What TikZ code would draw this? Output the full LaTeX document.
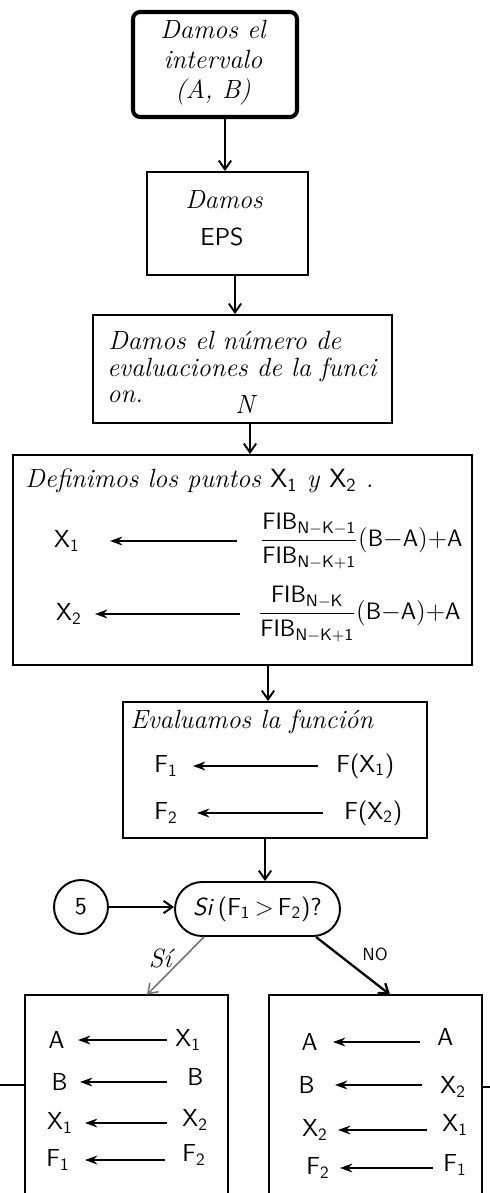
\documentclass[tikz,border=0pt]{standalone}
\usepackage{fontspec}
\usetikzlibrary{arrows.meta,shapes.misc}
\begin{document}
\begin{tikzpicture}[x=0.02cm,y=-0.02cm,
  box/.style={draw, line width=1.1pt, inner sep=0pt},
  txt/.style={inner sep=0pt, font=\fontsize{15}{17}\selectfont\itshape},
  var/.style={inner sep=0pt, font=\fontsize{14}{16}\selectfont\sffamily},
  frac/.style={inner sep=0pt, font=\fontsize{13.5}{15}\selectfont},
  flow/.style={line width=1.1pt, -{Straight Barb[length=5pt,width=7pt]}},
  asg/.style={line width=1pt, -{Stealth[length=7pt,width=5pt]}},
]
\useasboundingbox (0,0) rectangle (490,1193);

% ---- boxes ----
\node[box, line width=2.3pt, rounded corners=4pt, minimum width=3.28cm, minimum height=2.1cm] (b1) at (215,64.5) {};
\node[box, minimum width=3.22cm, minimum height=2.06cm] (b2) at (227.5,223.5) {};
\node[box, minimum width=5.98cm, minimum height=2.16cm] (b3) at (242.5,369) {};
\node[box, minimum width=9.18cm, minimum height=4.2cm] (b4) at (242.5,560) {};
\node[box, minimum width=6.08cm, minimum height=2.72cm] (b5) at (275,770) {};
\node[box, rounded rectangle, minimum width=3.3cm, minimum height=1.08cm, font=\fontsize{14}{16}\selectfont\sffamily] (dec) at (257.5,909) {\textit{Si}\,(F\textsubscript{1}\,$>$\,F\textsubscript{2})?};
\node[box, circle, minimum size=1.08cm, font=\fontsize{14}{16}\selectfont\sffamily] (circ) at (81,907) {5};
\node[inner sep=0pt, minimum width=4.04cm, minimum height=3.96cm] (bL) at (126.5,1094) {};
\node[inner sep=0pt, minimum width=4.26cm, minimum height=3.96cm] (bR) at (375.5,1094) {};
\draw[line width=1.2pt] (bL.south west) -- (bL.north west) -- (bL.north east) -- (bL.south east);
\draw[line width=1.2pt] (bR.south west) -- (bR.north west) -- (bR.north east) -- (bR.south east);

% ---- texts ----
\node[txt, align=center] (t1) at (213,63) {Damos el\\intervalo\\(A, B)};
\node[txt] (t2a) at (224,200) {Damos};
\node[var] (t2b) at (222,237) {EPS};
\node[txt, anchor=west] (t3a) at (108,340) {Damos el número de};
\node[txt, anchor=west] (t3b) at (107,370) {evaluaciones de la funci};
\node[txt, anchor=west] (t3c) at (107,397) {on.};
\node[txt] (t3n) at (245,404) {N};
\node[txt, anchor=west] (t4) at (25,481) {Definimos los puntos \textup{\sffamily X\textsubscript{1}} y \textup{\sffamily X\textsubscript{2}} .};
\node[txt, anchor=west] (t5) at (130,722) {Evaluamos la función};

% ---- box 4 rows ----
\node[var, anchor=east] (x1) at (80,541) {X\textsubscript{1}};
\node[frac, anchor=west] (f1) at (260,541) {$\displaystyle\frac{\mathsf{FIB}_{\mathsf{N-K-1}}}{\mathsf{FIB}_{\mathsf{N-K+1}}}(\mathsf{B}{-}\mathsf{A}){+}\mathsf{A}$};
\draw[asg, shorten <=0.46cm, shorten >=0.6cm] (f1.west) -- (x1.east);
\node[var, anchor=east] (x2) at (82,614) {X\textsubscript{2}};
\node[frac, anchor=west] (f2) at (258,614) {$\displaystyle\frac{\mathsf{FIB}_{\mathsf{N-K}}}{\mathsf{FIB}_{\mathsf{N-K+1}}}(\mathsf{B}{-}\mathsf{A}){+}\mathsf{A}$};
\draw[asg, shorten <=0.36cm, shorten >=0.26cm] (f2.west) -- (x2.east);

% ---- box 5 rows ----
\node[var, anchor=east] (F1) at (178,766) {F\textsubscript{1}};
\node[var, anchor=west] (FX1) at (336,766) {F(X\textsubscript{1})};
\draw[asg, shorten <=0.36cm, shorten >=0.3cm] (FX1.west) -- (F1.east);
\node[var, anchor=east] (F2) at (178,813) {F\textsubscript{2}};
\node[var, anchor=west] (FX2) at (344,813) {F(X\textsubscript{2})};
\draw[asg, shorten <=0.42cm, shorten >=0.38cm] (FX2.west) -- (F2.east);

% ---- left box rows ----
\node[var, anchor=east] (lA) at (65,1040) {A};
\node[var, anchor=west] (rA) at (175,1040) {X\textsubscript{1}};
\draw[asg, shorten <=0.16cm, shorten >=0.26cm] (rA.west |- lA.east) -- (lA.east);
\node[var, anchor=east] (lB) at (68,1082) {B};
\node[var, anchor=west] (rB) at (187,1077) {B};
\draw[asg, shorten <=0.4cm, shorten >=0.24cm] (rB.west |- lB.east) -- (lB.east);
\node[var, anchor=east] (lX) at (73,1123) {X\textsubscript{1}};
\node[var, anchor=west] (rX) at (182,1120) {X\textsubscript{2}};
\draw[asg, shorten <=0.3cm, shorten >=0.24cm] (rX.west |- lX.east) -- (lX.east);
\node[var, anchor=east] (lF) at (70,1160) {F\textsubscript{1}};
\node[var, anchor=west] (rF) at (182,1155) {F\textsubscript{2}};
\draw[asg, shorten <=0.34cm, shorten >=0.3cm] (rF.west |- lF.east) -- (lF.east);

% ---- right box rows ----
\node[var, anchor=east] (mA) at (318,1042) {A};
\node[var, anchor=west] (sA) at (437,1037) {A};
\draw[asg, shorten <=0.34cm, shorten >=0.3cm] (sA.west |- mA.east) -- (mA.east);
\node[var, anchor=east] (mB) at (315,1085) {B};
\node[var, anchor=west] (sB) at (440,1087) {X\textsubscript{2}};
\draw[asg, shorten <=0.36cm, shorten >=0.4cm] (sB.west |- mB.east) -- (mB.east);
\node[var, anchor=east] (mX) at (328,1130) {X\textsubscript{2}};
\node[var, anchor=west] (sX) at (442,1125) {X\textsubscript{1}};
\draw[asg, shorten <=0.3cm, shorten >=0.2cm] (sX.west |- mX.east) -- (mX.east);
\node[var, anchor=east] (mF) at (330,1168) {F\textsubscript{2}};
\node[var, anchor=west] (sF) at (443,1165) {F\textsubscript{1}};
\draw[asg, shorten <=0.2cm, shorten >=0.2cm] (sF.west |- mF.east) -- (mF.east);

% ---- connectors ----
\coordinate (k1) at (225,0);
\coordinate (k2) at (235,0);
\coordinate (k3) at (250,0);
\coordinate (k4) at (268,0);
\coordinate (k5) at (265,0);
\draw[flow] (b1.south -| k1) -- (b2.north -| k1);
\draw[flow] (b2.south -| k2) -- (b3.north -| k2);
\draw[flow] (b3.south -| k3) -- (b4.north -| k3);
\draw[flow] (b4.south -| k4) -- (b5.north -| k4);
\draw[flow] (b5.south -| k5) -- (dec.north -| k5);
\draw[flow] (circ.east) -- (circ.east -| dec.west);

\coordinate (s1) at (204,0);
\coordinate (s2) at (147,0);
\coordinate (n1) at (316,0);
\coordinate (n2) at (390,0);
\draw[flow, draw=black!55, line width=0.9pt] (dec.south -| s1) -- (bL.north -| s2);
\draw[flow, line width=1.3pt] (dec.south -| n1) -- (bR.north -| n2);
\node[txt] (lsi) at (160,958) {Sí};
\node[var, font=\fontsize{10}{12}\selectfont\sffamily] (lno) at (375,954) {NO};

\coordinate (eL) at (0,1085);
\coordinate (eR) at (490,1087);
\draw[line width=1.1pt] (bL.west |- eL) -- (eL);
\draw[line width=1.1pt] (bR.east |- eR) -- (eR);
\end{tikzpicture}
\end{document}
